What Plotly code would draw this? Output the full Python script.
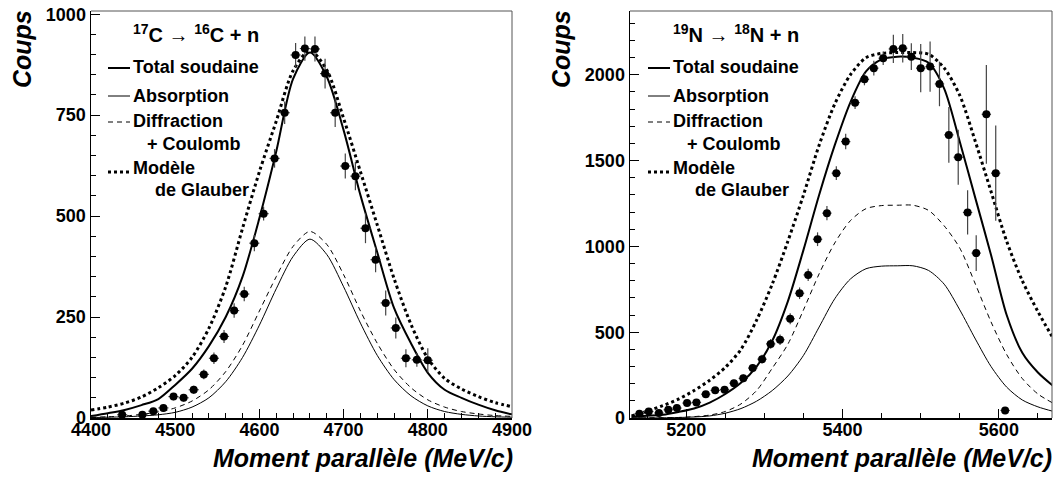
import plotly.graph_objects as go

# ---------------- Left panel : 17C -> 16C + n ----------------
c_p = [4437, 4461, 4474, 4486, 4498, 4510, 4522, 4534, 4546, 4558, 4570, 4582,
       4594, 4605, 4618, 4630, 4643, 4654, 4666, 4678, 4690, 4702, 4714, 4726,
       4738, 4750, 4762, 4774, 4787, 4800]
c_counts = [8, 8, 17, 25, 53, 50, 70, 108, 148, 202, 266, 307,
            433, 506, 643, 756, 899, 915, 914, 853, 756, 624, 599, 470,
            392, 285, 223, 148, 144, 143]
c_err = [5, 5, 6, 7, 9, 9, 10, 12, 14, 16, 18, 18,
         20, 17, 23, 28, 30, 30, 31, 37, 35, 31, 35, 37,
         31, 31, 26, 22, 17, 30]

c_mx = [4400, 4420, 4440, 4460, 4480, 4500, 4520, 4540, 4560, 4580, 4600, 4620, 4640,
        4660, 4680, 4700, 4720, 4740, 4760, 4780, 4800, 4820, 4840, 4860, 4880, 4900]
c_total = [5, 12, 20, 32, 47, 82, 122, 178, 250, 350, 495, 660, 840,
           905, 845, 713, 552, 410, 272, 185, 112, 70, 50, 33, 19, 9]
c_absorption = [1, 2, 3, 5, 8, 14, 27, 50, 90, 150, 230, 320, 400,
                443, 405, 325, 235, 155, 95, 55, 30, 16, 9, 5, 3, 2]
c_diffraction = [2, 3, 5, 9, 15, 25, 42, 70, 115, 180, 265, 350, 425,
                 462, 430, 355, 265, 185, 120, 75, 45, 27, 16, 10, 6, 4]
c_glauber = [20, 27, 37, 52, 75, 105, 150, 222, 325, 470, 610, 735, 860,
             910, 862, 742, 610, 478, 345, 232, 148, 98, 72, 53, 38, 28]

# ---------------- Right panel : 19N -> 18N + n ----------------
n_p = [5140, 5152, 5165, 5177, 5188, 5201, 5213, 5225, 5237, 5249, 5261, 5273,
       5285, 5297, 5308, 5320, 5333, 5345, 5356, 5368, 5380, 5392, 5404, 5416,
       5428, 5440, 5452, 5465, 5477, 5488, 5500, 5512, 5524, 5536, 5548, 5560,
       5571, 5584, 5596, 5608]
n_counts = [25, 38, 29, 48, 58, 87, 91, 139, 161, 165, 203, 231,
            291, 343, 432, 456, 578, 727, 834, 1042, 1194, 1427, 1611, 1838,
            1974, 2039, 2097, 2151, 2155, 2106, 2039, 2048, 1947, 1650, 1520, 1198,
            961, 1770, 1427, 44]
n_err = [8, 10, 9, 11, 12, 14, 14, 17, 18, 18, 20, 22,
         24, 26, 28, 30, 32, 34, 36, 40, 42, 40, 45, 37,
         35, 43, 39, 82, 83, 78, 140, 146, 130, 163, 160, 129,
         104, 288, 277, 5]

n_mx = [5130, 5150, 5170, 5190, 5210, 5230, 5250, 5270, 5290, 5310, 5330, 5350,
        5370, 5390, 5410, 5430, 5450, 5470, 5490, 5510, 5530, 5550, 5570, 5590,
        5610, 5630, 5650, 5670]
n_total = [8, 13, 19, 35, 55, 90, 140, 205, 300, 450, 680, 980,
           1300, 1590, 1840, 2020, 2090, 2106, 2100, 2070, 1920, 1610, 1280, 950,
           600, 380, 265, 185]
n_absorption = [0, 0, 1, 3, 6, 12, 28, 55, 98, 160, 245, 365,
                530, 695, 810, 870, 885, 887, 887, 860, 780, 630, 460, 300,
                180, 105, 65, 38]
n_diffraction = [0, 1, 2, 3, 8, 17, 38, 82, 160, 290, 430, 630,
                 840, 1020, 1150, 1220, 1238, 1240, 1240, 1210, 1120, 990, 780, 560,
                 370, 230, 140, 85]
n_glauber = [12, 40, 72, 110, 160, 220, 295, 400, 570, 780, 1030, 1300,
             1590, 1830, 2000, 2100, 2125, 2130, 2130, 2120, 2040, 1880, 1610, 1320,
             1030, 800, 620, 460]

left_yticks = [0, 250, 500, 750, 1000]
right_yticks = [0, 500, 1000, 1500, 2000]
left_xticks = [4400, 4500, 4600, 4700, 4800, 4900]
right_xticks = [5200, 5400, 5600]

legend_labels = ["Total soudaine", "Absorption", "Diffraction", "+ Coulomb",
                 "Modèle", "de Glauber"]
left_title = "<sup>17</sup>C → <sup>16</sup>C + n"
right_title = "<sup>19</sup>N → <sup>18</sup>N + n"
ytitle = "Coups"
xtitle = "Moment parallèle (MeV/c)"

# ---------------- figure ----------------
W, H = 1055, 480
ML, MR, MT, MB = 91, 3, 11, 62
PW, PH = W - ML - MR, H - MT - MB
FONT = "Liberation Sans, Arial, sans-serif"


def px(x):
    return (x - ML) / PW


def py(y):
    return (H - MB - y) / PH


fig = go.Figure()

styles = {
    "total": dict(color="black", width=2),
    "abs": dict(color="black", width=1),
    "diff": dict(color="black", width=1, dash="5px,4px"),
    "glau": dict(color="black", width=3, dash="dot"),
}


def add_panel(xa, ya, mx, tot, ab, df, gl, p, cnt, err, ex):
    for yv, st in ((ab, "abs"), (df, "diff"), (tot, "total"), (gl, "glau")):
        fig.add_trace(go.Scatter(x=mx, y=yv, mode="lines",
                                 line=dict(shape="spline", smoothing=0.8, **styles[st]),
                                 xaxis=xa, yaxis=ya, showlegend=False, hoverinfo="skip"))
    fig.add_trace(go.Scatter(x=p, y=cnt, mode="markers",
                             marker=dict(color="black", size=8),
                             error_y=dict(type="data", array=err, color="#444", thickness=1.2, width=0),
                             error_x=dict(type="constant", value=ex, color="#444", thickness=1.2, width=0),
                             xaxis=xa, yaxis=ya, showlegend=False))


add_panel("x", "y", c_mx, c_total, c_absorption, c_diffraction, c_glauber, c_p, c_counts, c_err, 6)
add_panel("x2", "y2", n_mx, n_total, n_absorption, n_diffraction, n_glauber, n_p, n_counts, n_err, 6)

tickfont = dict(family=FONT, size=18, color="black", weight="bold")
common = dict(showgrid=False, zeroline=False, ticks="inside", ticklen=9, tickwidth=1,
              tickcolor="black", showline=True, linecolor="black", linewidth=1.5,
              tickfont=tickfont, mirror=False, fixedrange=True, automargin=False)

left_dom = [0, (512 - ML) / PW]
right_dom = [(630 - ML) / PW, 1.0]

fig.update_layout(
    width=W, height=H, autosize=False, margin=dict(l=ML, r=MR, t=MT, b=MB, pad=0, autoexpand=False),
    paper_bgcolor="white", plot_bgcolor="white", showlegend=False,
    font=dict(family=FONT, color="black"),
    xaxis=dict(domain=left_dom, range=[4400, 4900], tickvals=left_xticks, anchor="y",
               ticklabelstandoff=-5,
               minor=dict(dtick=20, ticklen=5, ticks="inside", tickcolor="black"), **common),
    yaxis=dict(domain=[0, 1], range=[0, 1008], tickvals=left_yticks, anchor="x",
               minor=dict(dtick=50, ticklen=5, ticks="inside", tickcolor="black"), **common),
    xaxis2=dict(domain=right_dom, range=[5128, 5668], tickvals=right_xticks, anchor="y2",
                ticklabelstandoff=-5,
                minor=dict(dtick=50, ticklen=5, ticks="inside", tickcolor="black"), **common),
    yaxis2=dict(domain=[0, 1], range=[0, 2372], tickvals=right_yticks, anchor="x2",
                minor=dict(dtick=100, ticklen=5, ticks="inside", tickcolor="black"), **common),
)

shapes = []
annotations = []

# frame top/right lines
for xd in (left_dom, right_dom):
    shapes.append(dict(type="line", xref="paper", yref="paper", x0=xd[0], x1=xd[1], y0=1, y1=1,
                       line=dict(color="#555", width=1)))
    shapes.append(dict(type="line", xref="paper", yref="paper", x0=xd[1], x1=xd[1], y0=0, y1=1,
                       line=dict(color="#555", width=1)))

legfont = dict(family=FONT, size=18, color="black", weight="bold")
titlefont = dict(family=FONT, size=20, color="black", weight="bold")


def legend(dx, title):
    annotations.append(dict(x=px(131 + dx), y=py(33), xref="paper", yref="paper", text=title,
                            showarrow=False, xanchor="left", yanchor="middle", font=titlefont))
    rows = [(legend_labels[0], 131, 67, "total", 68),
            (legend_labels[1], 131, 96, "abs", 96),
            (legend_labels[2], 131, 121, "diff", 122),
            (legend_labels[3], 145, 144, None, None),
            (legend_labels[4], 131, 168, "glau", 172),
            (legend_labels[5], 153, 190, None, None)]
    for txt, tx, ty, st, sy in rows:
        annotations.append(dict(x=px(tx + dx), y=py(ty), xref="paper", yref="paper", text=txt,
                                showarrow=False, xanchor="left", yanchor="middle", font=legfont))
        if st:
            ln = dict(styles[st])
            shapes.append(dict(type="line", xref="paper", yref="paper",
                               x0=px(108 + dx), x1=px(130 + dx), y0=py(sy), y1=py(sy), line=ln))


legend(0, left_title)
legend(540, right_title)

tfont = dict(family=FONT, size=25, color="black", weight="bold", style="italic")
for cx in (22, 561):
    annotations.append(dict(x=px(cx), y=py(49), xref="paper", yref="paper", text=ytitle,
                            textangle=-90, showarrow=False, xanchor="center", yanchor="middle", font=tfont))
for rx in (515, 1054):
    annotations.append(dict(x=px(rx), y=py(458), xref="paper", yref="paper", text=xtitle,
                            showarrow=False, xanchor="right", yanchor="middle", font=tfont))

fig.update_layout(shapes=shapes, annotations=annotations)
fig.write_html(
    "out.html",
    config={"responsive": False, "displayModeBar": False, "staticPlot": True},
    post_script="document.body.style.margin='0';document.body.style.overflow='hidden';",
)
